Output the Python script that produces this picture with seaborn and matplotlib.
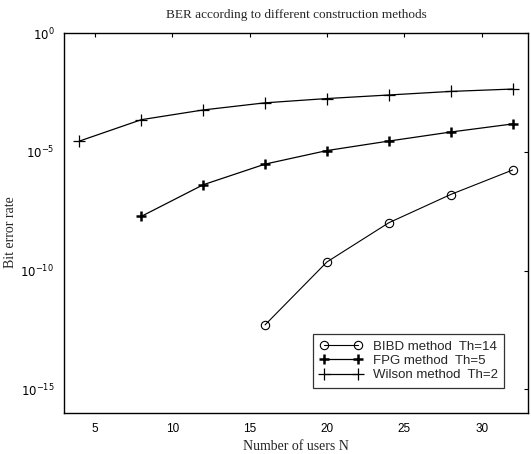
import numpy as np
import pandas as pd
import matplotlib
matplotlib.use("Agg")
import matplotlib.pyplot as plt
import seaborn as sns
from matplotlib.ticker import FixedLocator, NullLocator, FuncFormatter

# Data
users_wilson = [4, 8, 12, 16, 20, 24, 28, 32]
ber_wilson = [10**-4.55, 10**-3.65, 10**-3.24, 10**-2.94, 10**-2.76, 10**-2.61, 10**-2.46, 10**-2.36]
users_fpg = [8, 12, 16, 20, 24, 28, 32]
ber_fpg = [10**-7.72, 10**-6.39, 10**-5.52, 10**-4.95, 10**-4.55, 10**-4.17, 10**-3.83]
users_bibd = [16, 20, 24, 28, 32]
ber_bibd = [10**-12.29, 10**-9.64, 10**-7.99, 10**-6.80, 10**-5.77]

labels = ["BIBD method  Th=14", "FPG method  Th=5", "Wilson method  Th=2"]
x_ticks = [5, 10, 15, 20, 25, 30]
y_ticks = [1e-15, 1e-10, 1e-5, 1e0]

sns.set_theme(style="white")
plt.rcParams['font.family'] = ['Liberation Sans', 'DejaVu Sans']

fig = plt.figure(figsize=(5.31, 4.54), dpi=100)
ax = fig.add_axes([64/531, (454-413)/454, 464/531, 380/454])

df_b = pd.DataFrame({"N": users_bibd, "BER": ber_bibd})
df_f = pd.DataFrame({"N": users_fpg, "BER": ber_fpg})
df_w = pd.DataFrame({"N": users_wilson, "BER": ber_wilson})

sns.lineplot(data=df_b, x="N", y="BER", ax=ax, color="black", lw=0.8,
             marker="o", markersize=6, markerfacecolor="none",
             markeredgecolor="black", markeredgewidth=0.8, label=labels[0])
sns.lineplot(data=df_f, x="N", y="BER", ax=ax, color="black", lw=0.9,
             marker="+", markersize=7, markeredgecolor="black",
             markeredgewidth=1.8, label=labels[1])
sns.lineplot(data=df_w, x="N", y="BER", ax=ax, color="black", lw=0.9,
             marker="+", markersize=8, markeredgecolor="black",
             markeredgewidth=0.9, label=labels[2])

ax.set_yscale("log")
ax.set_xlim(3, 33)
ax.set_ylim(1e-16, 1e0)
ax.xaxis.set_major_locator(FixedLocator(x_ticks))
ax.yaxis.set_major_locator(FixedLocator(y_ticks))
ax.yaxis.set_minor_locator(NullLocator())
ax.yaxis.set_major_formatter(FuncFormatter(lambda v, p: r"$10^{%d}$" % round(np.log10(v))))

for s in ax.spines.values():
    s.set_color("black")
    s.set_linewidth(1.0)
ax.tick_params(direction="in", length=3, width=0.8, top=True, right=True,
               labelsize=8.5, colors="black", pad=7)

ax.set_title("BER according to different construction methods",
             fontfamily="Liberation Serif", fontsize=9.5, pad=11)
ax.set_xlabel("Number of users N", fontfamily="Liberation Serif", fontsize=10, labelpad=4)
ax.set_ylabel("Bit error rate", fontfamily="Liberation Serif", fontsize=10)
ax.yaxis.set_label_coords(-0.101, 0.476)

leg = ax.legend(loc="lower right", bbox_to_anchor=(0.963, 0.049), frameon=True,
                fancybox=False, edgecolor="black", fontsize=9.5, numpoints=2,
                handlelength=3.2, borderpad=0.5, labelspacing=0.15)
leg.get_frame().set_linewidth(0.9)

fig.savefig("out.png", dpi=100)
